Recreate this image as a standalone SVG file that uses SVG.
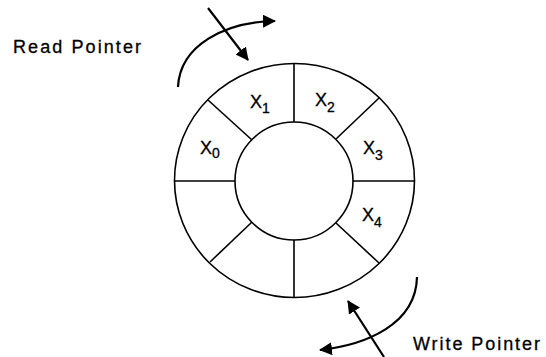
<svg xmlns="http://www.w3.org/2000/svg" width="546" height="357" viewBox="0 0 546 357">
<style>
.ring{fill:none;stroke:#000;stroke-width:1.6}
.conn{fill:none;stroke:#000;stroke-width:2.2}
.lbl{font-family:"Liberation Sans",Arial,Helvetica,sans-serif;font-size:18px;fill:#000;stroke:#000;stroke-width:0.3}
.sub{font-size:14px}
</style>
<defs>
<marker id="ah" viewBox="0 0 13 13" refX="12" refY="6.5" markerWidth="13" markerHeight="13" markerUnits="userSpaceOnUse" orient="auto">
<path d="M0,0 L13,6.5 L0,13 Z" fill="#000"/>
</marker>
</defs>
<rect width="546" height="357" fill="#fff"/>
<g id="buffer">
<ellipse class="ring" cx="294.5" cy="180.5" rx="120" ry="117"/>
<circle class="ring" cx="294" cy="181" r="59"/>
<line class="ring" x1="294" y1="63.5" x2="294" y2="122"/>
<line class="ring" x1="294" y1="240" x2="294" y2="297.5"/>
<line class="ring" x1="174.5" y1="181" x2="235" y2="181"/>
<line class="ring" x1="353" y1="181" x2="414.5" y2="181"/>
<line class="ring" x1="208" y1="100" x2="252" y2="140"/>
<line class="ring" x1="379" y1="98" x2="336" y2="139"/>
<line class="ring" x1="210" y1="262" x2="252" y2="222"/>
<line class="ring" x1="379" y1="263" x2="336" y2="223"/>
</g>
<g id="slot-x0"><text class="lbl" x="200" y="154">X<tspan class="sub" dy="4">0</tspan></text></g>
<g id="slot-x1"><text class="lbl" x="250" y="108">X<tspan class="sub" dy="5">1</tspan></text></g>
<g id="slot-x2"><text class="lbl" x="315" y="106">X<tspan class="sub" dy="6">2</tspan></text></g>
<g id="slot-x3"><text class="lbl" x="363" y="154">X<tspan class="sub" dy="6">3</tspan></text></g>
<g id="slot-x4"><text class="lbl" x="362" y="221">X<tspan class="sub" dy="6">4</tspan></text></g>
<g id="read-label"><text class="lbl" x="13" y="53" textLength="128" lengthAdjust="spacing">Read Pointer</text></g>
<g id="write-label"><text class="lbl" x="413" y="350" textLength="127" lengthAdjust="spacing">Write Pointer</text></g>
<g id="connectors">
<path class="conn" d="M178,87 C180,45 225,22 275,21" marker-end="url(#ah)"/>
<line class="conn" x1="208" y1="8" x2="248" y2="60" marker-end="url(#ah)"/>
<path class="conn" d="M417,277 C416,325 365,345 320,350" marker-end="url(#ah)"/>
<line class="conn" x1="384" y1="357" x2="348" y2="301" marker-end="url(#ah)"/>
</g>
</svg>
